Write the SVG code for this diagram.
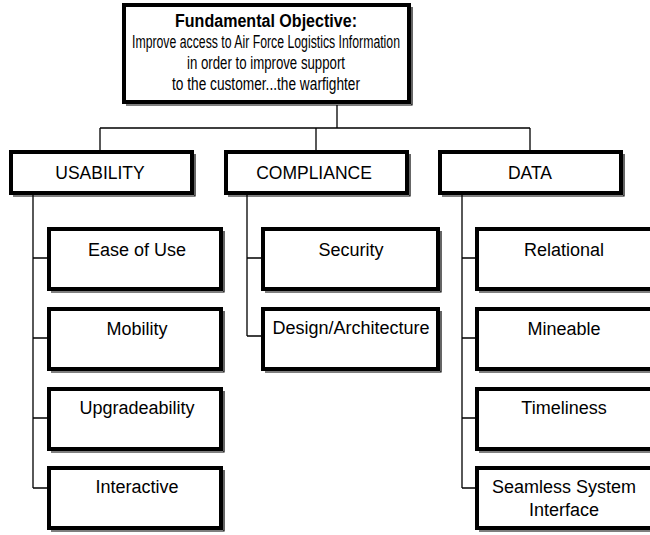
<svg xmlns="http://www.w3.org/2000/svg" width="650" height="535" viewBox="0 0 650 535">
<defs>
<style>
.box{fill:#fff;stroke:#000;stroke-width:4}
.sh{fill:none;stroke:#000;stroke-width:1.2}
.t{font-family:"Liberation Sans",Arial,sans-serif;font-size:18px;fill:#000;text-anchor:middle}
.top{font-size:17.5px}
.cat{font-size:17.5px}
.b{font-weight:bold}
.c{fill:none;stroke:#000;stroke-width:1.3}
</style>
</defs>
<rect width="650" height="535" fill="#fff"/>
<g id="connectors">
<path class="c" d="M337,105 V128 M100,128 H530 M100,128 V150 M316,128 V150 M530,128 V150"/>
<path class="c" d="M33,195 V488 M33,258 H48 M33,338 H48 M33,418 H48 M33,488 H48"/>
<path class="c" d="M247,195 V336 M247,258 H262 M247,336 H262"/>
<path class="c" d="M462,195 V488 M462,258 H476 M462,338 H476 M462,418 H476 M462,488 H476"/>
</g>
<g id="objective">
<rect class="box" x="124" y="5" width="285" height="97"/>
<path class="sh" d="M412,7 V105 H126"/>
<text class="t top b" x="266" y="27" textLength="182" lengthAdjust="spacingAndGlyphs">Fundamental Objective:</text>
<text class="t top" x="266" y="48" textLength="268" lengthAdjust="spacingAndGlyphs">Improve access to Air Force Logistics Information</text>
<text class="t top" x="266" y="69" textLength="158" lengthAdjust="spacingAndGlyphs">in order to improve support</text>
<text class="t top" x="266" y="90" textLength="188" lengthAdjust="spacingAndGlyphs">to the customer...the warfighter</text>
</g>
<g id="usability">
<rect class="box" x="11" y="152" width="181" height="41"/>
<path class="sh" d="M195,154 V196 H13"/>
<text class="t cat" x="100" y="179">USABILITY</text>
</g>
<g id="compliance">
<rect class="box" x="226" y="152" width="181" height="41"/>
<path class="sh" d="M410,154 V196 H228"/>
<text class="t cat" x="314" y="179">COMPLIANCE</text>
</g>
<g id="data">
<rect class="box" x="440" y="152" width="181" height="41"/>
<path class="sh" d="M624,154 V196 H442"/>
<text class="t cat" x="530" y="179">DATA</text>
</g>
<g id="ease">
<rect class="box" x="49" y="229" width="172" height="60"/>
<path class="sh" d="M224,231 V292 H51"/>
<text class="t" x="137" y="256">Ease of Use</text>
</g>
<g id="mobility">
<rect class="box" x="49" y="309" width="172" height="60"/>
<path class="sh" d="M224,311 V372 H51"/>
<text class="t" x="137" y="335">Mobility</text>
</g>
<g id="upgradeability">
<rect class="box" x="49" y="389" width="172" height="60"/>
<path class="sh" d="M224,391 V452 H51"/>
<text class="t" x="137" y="414">Upgradeability</text>
</g>
<g id="interactive">
<rect class="box" x="49" y="468" width="172" height="60"/>
<path class="sh" d="M224,470 V531 H51"/>
<text class="t" x="137" y="493">Interactive</text>
</g>
<g id="security">
<rect class="box" x="263" y="229" width="175" height="60"/>
<path class="sh" d="M441,231 V292 H265"/>
<text class="t" x="351" y="256">Security</text>
</g>
<g id="design">
<rect class="box" x="263" y="309" width="175" height="60"/>
<path class="sh" d="M441,311 V372 H265"/>
<text class="t" x="351" y="334">Design/Architecture</text>
</g>
<g id="relational">
<rect class="box" x="477" y="229" width="180" height="60"/>
<path class="sh" d="M650,292 H479"/>
<text class="t" x="564" y="256">Relational</text>
</g>
<g id="mineable">
<rect class="box" x="477" y="309" width="180" height="60"/>
<path class="sh" d="M650,372 H479"/>
<text class="t" x="564" y="335">Mineable</text>
</g>
<g id="timeliness">
<rect class="box" x="477" y="389" width="180" height="60"/>
<path class="sh" d="M650,452 H479"/>
<text class="t" x="564" y="414">Timeliness</text>
</g>
<g id="seamless">
<rect class="box" x="477" y="468" width="180" height="60"/>
<path class="sh" d="M650,531 H479"/>
<text class="t" x="564" y="493">Seamless System</text>
<text class="t" x="564" y="516">Interface</text>
</g>
</svg>
